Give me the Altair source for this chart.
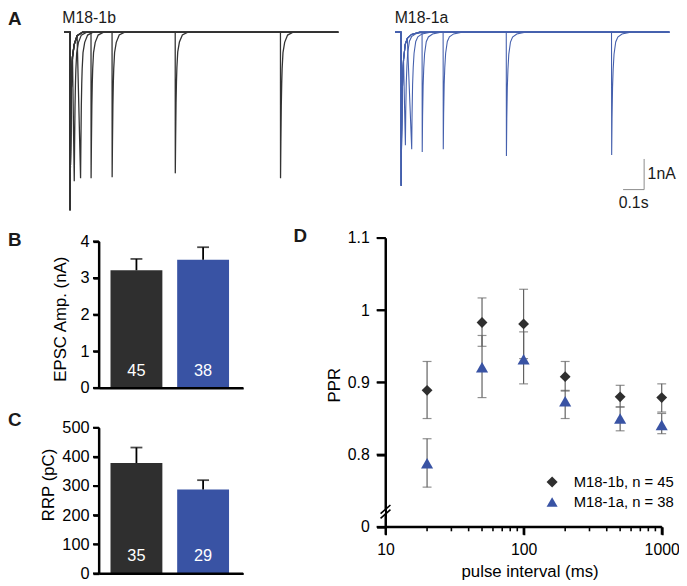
import altair as alt
import pandas as pd

W, H = 679, 576
FONT = "Liberation Sans"
INK = "#1a1a1a"
BLACK = "#2f2f2f"
BLUE = "#3953a4"
ERR_GREY = "#616161"
SCALEBAR_GREY = "#8a8a8a"

GROUPS = ["M18-1b", "M18-1a"]
GROUP_COLORS = [BLACK, BLUE]
GROUP_SHAPES = ["diamond", "triangle-up"]

# ---------------- Panel A : paired-pulse sweeps ----------------
INTERVALS_MS = [20, 50, 100, 200, 500, 1000]
A1_1B = 5.81                                   # nA, first EPSC
A2_1B = [4.87, 4.77, 4.77, 4.74, 4.61, 4.77]   # nA, second EPSC
A1_1A = 5.01
A2_1A = [3.69, 3.82, 3.91, 3.82, 4.04, 4.01]
# EPSC waveform (ms after onset, fraction of peak)
EPSC_T_1B = [0, 0.4, 2, 4, 6, 8, 12, 20, 34, 60]
EPSC_F_1B = [0, 1, 0.75, 0.5, 0.35, 0.25, 0.14, 0.07, 0.02, 0]
EPSC_T_1A = [0, 0.8, 2.5, 5, 8, 12, 20, 30, 50, 90]
EPSC_F_1A = [0, 1, 0.7, 0.45, 0.3, 0.18, 0.08, 0.04, 0.015, 0]
SWEEP_START_MS = -28
SWEEP_END_MS = 1275
SCALEBAR_MS = 100
SCALEBAR_NA = 1

# ---------------- Panel B / C ----------------
EPSC_AMP = [3.21, 3.50]
EPSC_AMP_UP = [3.52, 3.84]
N_EPSC = [45, 38]
RRP = [379, 288]
RRP_UP = [432, 320]
N_RRP = [35, 29]

# ---------------- Panel D ----------------
PPR_INTERVAL = [20, 50, 100, 200, 500, 1000]
PPR_1B = [0.889, 0.983, 0.981, 0.908, 0.880, 0.879]
PPR_1B_LO = [0.850, 0.950, 0.933, 0.888, 0.866, 0.859]
PPR_1B_HI = [0.929, 1.017, 1.029, 0.929, 0.896, 0.898]
PPR_1A = [0.788, 0.921, 0.932, 0.874, 0.850, 0.841]
PPR_1A_LO = [0.755, 0.879, 0.898, 0.850, 0.833, 0.829]
PPR_1A_HI = [0.822, 0.965, 0.970, 0.889, 0.866, 0.857]
MINOR_TICKS = [20, 30, 40, 50, 60, 70, 80, 90, 200, 300, 400, 500, 600, 700, 800, 900]
MAJOR_TICKS = [10, 100, 1000]
PPR_TICKS = [0.7, 0.8, 0.9, 1.0, 1.1]

color_scale = alt.Scale(domain=GROUPS, range=GROUP_COLORS)
shape_scale = alt.Scale(domain=GROUPS, range=GROUP_SHAPES)


def sweeps(a1, a2s, tt, ff, group):
    rows = []
    for k, (iv, a2) in enumerate(zip(INTERVALS_MS, a2s)):
        pts = [(SWEEP_START_MS, 0.0)]
        pts += [(t, -a1 * f) for t, f in zip(tt, ff) if t < iv]
        second = list(zip(tt, ff))
        if iv < tt[-1]:
            second = second[1:]
        pts += [(iv + t, -a2 * f) for t, f in second]
        pts.append((SWEEP_END_MS, 0.0))
        for j, (t, i) in enumerate(pts):
            rows.append(dict(sweep=k, order=j, t=t, I=i, group=group))
    return pd.DataFrame(rows)


def note(text, x, y, size, weight="normal", align="left", baseline="alphabetic", color=INK):
    return alt.Chart(pd.DataFrame({"s": [text]})).mark_text(
        fontSize=size, fontWeight=weight, align=align, baseline=baseline, color=color, font=FONT
    ).encode(text="s:N", x=alt.value(x), y=alt.value(y))


def seg(x1, y1, x2, y2, color="black", w=1.6):
    return alt.Chart(pd.DataFrame({"k": [0]})).mark_rule(color=color, strokeWidth=w).encode(
        x=alt.value(x1), y=alt.value(y1), x2=alt.value(x2), y2=alt.value(y2)
    )


# ---------------- traces ----------------
T_DOMAIN = [-100, 1300]
i_scale = alt.Scale(domain=[-6, 0.5], range=[207, 5.5], nice=False, zero=False)


def trace_panel(df, t_range, color, width):
    ts = alt.Scale(domain=T_DOMAIN, range=t_range, nice=False, zero=False)
    line = alt.Chart(df).mark_line(color=color, strokeWidth=width).encode(
        x=alt.X("t:Q", scale=ts, axis=None),
        y=alt.Y("I:Q", scale=i_scale, axis=None),
        detail="sweep:N",
        order=alt.Order("order:Q"),
    )
    return line, ts


left_line, left_ts = trace_panel(sweeps(A1_1B, A2_1B, EPSC_T_1B, EPSC_F_1B, GROUPS[0]),
                                 [41.4, 339.6], "#333333", 1.3)
right_line, right_ts = trace_panel(sweeps(A1_1A, A2_1A, EPSC_T_1A, EPSC_F_1A, GROUPS[1]),
                                   [376.4, 674.6], "#4560ad", 1.1)

SB_T0, SB_I0 = 1155, -5.14
sb_df = pd.DataFrame({"t": [SB_T0 - SCALEBAR_MS, SB_T0, SB_T0],
                      "I": [SB_I0, SB_I0, SB_I0 + SCALEBAR_NA], "o": [0, 1, 2]})
sb_line = alt.Chart(sb_df).mark_line(color=SCALEBAR_GREY, strokeWidth=1).encode(
    x=alt.X("t:Q", scale=right_ts, axis=None), y=alt.Y("I:Q", scale=i_scale, axis=None),
    order=alt.Order("o:Q"))
sb_txt_1 = alt.Chart(pd.DataFrame({"t": [SB_T0], "I": [SB_I0 + SCALEBAR_NA / 2], "s": [f"{SCALEBAR_NA}nA"]})).mark_text(
    fontSize=16, baseline="middle", align="left", dx=3.5, color=INK, font=FONT).encode(
    x=alt.X("t:Q", scale=right_ts, axis=None), y=alt.Y("I:Q", scale=i_scale, axis=None), text="s:N")
sb_txt_2 = alt.Chart(pd.DataFrame({"t": [SB_T0 - SCALEBAR_MS / 2], "I": [SB_I0 - 0.43], "s": [f"{SCALEBAR_MS / 1000:g}s"]})).mark_text(
    fontSize=16, baseline="middle", align="center", color=INK, font=FONT).encode(
    x=alt.X("t:Q", scale=right_ts, axis=None), y=alt.Y("I:Q", scale=i_scale, axis=None), text="s:N")

left_panel = alt.layer(left_line)
right_panel = alt.layer(right_line, sb_line, sb_txt_1, sb_txt_2)

# ---------------- bar panels ----------------
AX = dict(domain=True, ticks=True, domainColor="black", tickColor="black", labelColor="black",
          titleColor="black", domainWidth=2, tickWidth=2, grid=False, labelFont=FONT,
          titleFont=FONT, titleFontWeight="normal", zindex=1)
AXIS_W = 2


def bar_panel(vals, ups, ns, ydom, yrange, yvalues, title, title_x, title_y, x_axis_y, label_y):
    X0, X1 = 92, 238
    df = pd.DataFrame({"group": GROUPS, "v": vals, "up": ups, "n": [str(n) for n in ns],
                       "fill": GROUP_COLORS})
    xs = alt.Scale(domain=GROUPS, range=[X0, X1], paddingInner=0.222, paddingOuter=0.193, align=0.45)
    x = alt.X("group:N", sort=GROUPS, scale=xs,
              axis=alt.Axis(orient="bottom", offset=x_axis_y - H, tickSize=0, labels=False,
                            title=None, **AX))
    ys = alt.Scale(domain=ydom, range=yrange, nice=False, zero=False)
    yax = alt.Axis(orient="left", offset=-X0, values=yvalues, tickSize=6, labelPadding=4,
                   labelFontSize=16.5, title=title, titleFontSize=17, titleX=title_x, titleY=title_y,
                   titleAngle=270, titleAlign="center", titleBaseline="alphabetic", **AX)
    base = alt.Chart(df)
    bars = base.mark_bar().encode(
        x=x, y=alt.Y("v:Q", scale=ys, axis=yax),
        color=alt.Color("fill:N", scale=None))
    err = base.mark_rule(color="black", strokeWidth=1.8).encode(
        x=x, y=alt.Y("v:Q", scale=ys, axis=yax), y2="up:Q")
    cap = base.mark_tick(color="black", orient="horizontal", size=12, thickness=1.8).encode(
        x=x, y=alt.Y("up:Q", scale=ys, axis=yax))
    lab = base.mark_text(color="white", fontSize=16.5, baseline="middle", font=FONT).encode(
        x=x, y=alt.value(label_y), text="n:N")
    # axis lines and tick marks, drawn through the same y scale
    ydom_line = alt.Chart(pd.DataFrame({"v": [ydom[0]], "v2": [ydom[1]]})).mark_rule(
        color="black", strokeWidth=AXIS_W).encode(
        x=alt.value(X0), y=alt.Y("v:Q", scale=ys, axis=yax), y2="v2:Q")
    yticks = alt.Chart(pd.DataFrame({"v": yvalues})).mark_rule(
        color="black", strokeWidth=AXIS_W).encode(
        x=alt.value(X0 - 6), x2=alt.value(X0), y=alt.Y("v:Q", scale=ys, axis=yax))
    xdom_line = seg(X0 - 1, x_axis_y, X1, x_axis_y, w=AXIS_W)
    return alt.layer(bars, err, cap, lab, ydom_line, yticks, xdom_line)


panel_b = bar_panel(EPSC_AMP, EPSC_AMP_UP, N_EPSC, [0, 4], [381, 232.7], [0, 1, 2, 3, 4],
                    "EPSC Amp. (nA)", -34, 311, 381, 363.7)
panel_c = bar_panel(RRP, RRP_UP, N_RRP, [0, 500], [568.7, 421.3], [0, 100, 200, 300, 400, 500],
                    "RRP (pC)", -46.3, 478.7, 568.7, 551.3)

# ---------------- panel D ----------------
dfD = pd.DataFrame({
    "group": [GROUPS[0]] * len(PPR_INTERVAL) + [GROUPS[1]] * len(PPR_INTERVAL),
    "interval": PPR_INTERVAL * 2,
    "ppr": PPR_1B + PPR_1A,
    "lo": PPR_1B_LO + PPR_1A_LO,
    "hi": PPR_1B_HI + PPR_1A_HI,
})
D_X0, D_X1, D_Y0 = 382, 661.5, 521.6
xsD = alt.Scale(type="log", domain=[10, 1000], range=[D_X0, D_X1], nice=False)
xaxD = alt.Axis(orient="bottom", offset=D_Y0 - H, values=MAJOR_TICKS, format="d", tickSize=8,
                labelFontSize=16, labelPadding=6.5, labelFlush=False, labelOverlap=False,
                title="pulse interval (ms)", titleFontSize=17, titleX=527.8, titleY=49.8,
                titleAlign="center", titleBaseline="alphabetic", **AX)
ysD = alt.Scale(domain=[0.7, 1.1], range=[D_Y0, 229.3], nice=False, zero=False)
yaxD = alt.Axis(orient="left", offset=-D_X0, values=PPR_TICKS,
                labelExpr="datum.value < 0.75 ? '0' : format(datum.value, '~g')",
                tickSize=9, labelPadding=7.5, labelFontSize=16, title="PPR", titleFontSize=17,
                titleX=-46.7, titleY=377.8, titleAngle=270, titleAlign="center",
                titleBaseline="alphabetic", **AX)
xD = alt.X("interval:Q", scale=xsD, axis=xaxD)
baseD = alt.Chart(dfD)
errD = baseD.mark_rule(color=ERR_GREY, strokeWidth=1.2).encode(
    x=xD, y=alt.Y("lo:Q", scale=ysD, axis=yaxD), y2="hi:Q")
capLo = baseD.mark_tick(color=ERR_GREY, orient="horizontal", size=9, thickness=1.2).encode(
    x=xD, y=alt.Y("lo:Q", scale=ysD, axis=yaxD))
capHi = baseD.mark_tick(color=ERR_GREY, orient="horizontal", size=9, thickness=1.2).encode(
    x=xD, y=alt.Y("hi:Q", scale=ysD, axis=yaxD))
leg_expr = (f"datum.label == '{GROUPS[0]}' ? '{GROUPS[0]}, n = {N_EPSC[0]}' : "
            f"'{GROUPS[1]}, n = {N_EPSC[1]}'")
legend = alt.Legend(title=None, orient="none", legendX=543.1, legendY=468.7, labelFontSize=15,
                    labelFont=FONT, labelColor="black", symbolSize=125, labelOffset=14.4,
                    rowPadding=4.3, padding=0, symbolStrokeWidth=0, labelExpr=leg_expr,
                    labelLimit=200)


def pts_layer(group, size):
    return baseD.transform_filter(alt.datum.group == group).mark_point(
        filled=True, size=size, opacity=1, strokeWidth=0).encode(
        x=xD, y=alt.Y("ppr:Q", scale=ysD, axis=yaxD),
        color=alt.Color("group:N", scale=color_scale, legend=legend),
        shape=alt.Shape("group:N", scale=shape_scale, legend=legend))


ptsA = pts_layer(GROUPS[1], 150)
ptsB = pts_layer(GROUPS[0], 120)
minorD = alt.Chart(pd.DataFrame({"interval": MINOR_TICKS})).mark_rule(color="black", strokeWidth=1.6).encode(
    x=alt.X("interval:Q", scale=xsD, axis=xaxD), y=alt.value(D_Y0), y2=alt.value(D_Y0 + 4.5))
majorD = alt.Chart(pd.DataFrame({"interval": MAJOR_TICKS})).mark_rule(color="black", strokeWidth=AXIS_W).encode(
    x=alt.X("interval:Q", scale=xsD, axis=xaxD), y=alt.value(D_Y0), y2=alt.value(D_Y0 + 8))
xdomD = alt.Chart(pd.DataFrame({"interval": [MAJOR_TICKS[0]], "i2": [MAJOR_TICKS[-1]]})).mark_rule(
    color="black", strokeWidth=AXIS_W).encode(
    x=alt.X("interval:Q", scale=xsD, axis=xaxD), x2="i2:Q", y=alt.value(D_Y0))
ydomD = alt.Chart(pd.DataFrame({"ppr": [PPR_TICKS[0]], "p2": [PPR_TICKS[-1]]})).mark_rule(
    color="black", strokeWidth=AXIS_W).encode(
    x=alt.value(D_X0), y=alt.Y("ppr:Q", scale=ysD, axis=yaxD), y2="p2:Q")
yticksD = alt.Chart(pd.DataFrame({"ppr": PPR_TICKS})).mark_rule(
    color="black", strokeWidth=AXIS_W).encode(
    x=alt.value(D_X0 - 9), x2=alt.value(D_X0), y=alt.Y("ppr:Q", scale=ysD, axis=yaxD))
panel_d = alt.layer(errD, capLo, capHi, ptsA, ptsB, minorD, majorD, xdomD, ydomD, yticksD)

# axis break on D's y axis
break_marks = alt.layer(
    seg(D_X0, 504.3, D_X0, 508.3, color="white", w=4),
    seg(D_X0 - 5, 508.3, D_X0 + 5, 499.5),
    seg(D_X0 - 5, 513.0, D_X0 + 5, 504.2),
)

# ---------------- text annotations ----------------
notes = alt.layer(
    note("A", 0, 13.5, 19, weight="bold"),
    note("B", 0, 237, 19, weight="bold"),
    note("C", 0, 419.3, 19, weight="bold"),
    note("D", 289, 233, 19, weight="bold"),
    note("M18-1b", 55, 12, 16),
    note("M18-1a", 391.3, 12, 16),
)

chart = alt.layer(
    panel_d, left_panel, right_panel, panel_b, panel_c, break_marks, notes
).resolve_scale(x="independent", y="independent").properties(
    width=W, height=H, padding=0, autosize=alt.AutoSizeParams(type="none")
).configure(font=FONT).configure_view(stroke=None)

chart.save("out.html", embed_options={"renderer": "svg", "actions": False})
